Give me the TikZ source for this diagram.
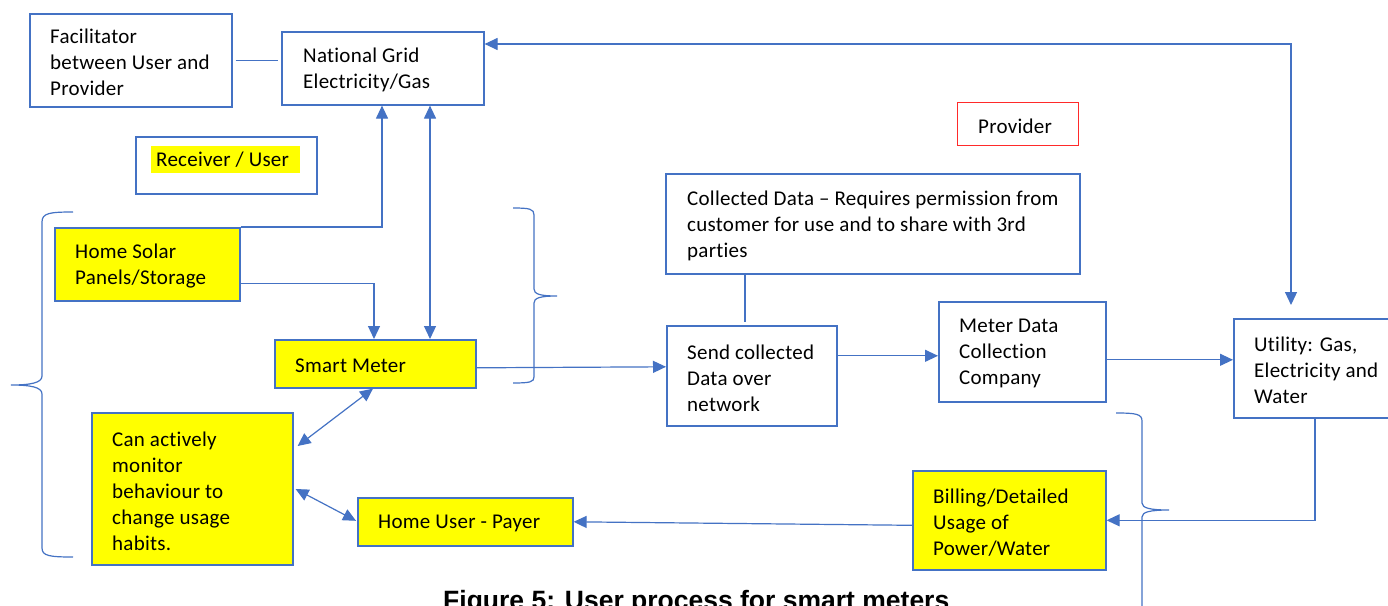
\documentclass[tikz,border=0pt]{standalone}
\usepackage{fontspec}
\newfontfamily\calibri{Carlito}[Ligatures=NoCommon,LetterSpace=1.2]
\newfontfamily\capfont{Liberation Sans}
\usetikzlibrary{arrows.meta,calc}
\definecolor{lnblue}{HTML}{4472C4}
\definecolor{hiyellow}{HTML}{FFFF00}
\definecolor{provred}{HTML}{FF2A2A}
\begin{document}
\begin{tikzpicture}[x=1pt,y=-1pt,
  box/.style={draw=lnblue,line width=1.6pt,rectangle,anchor=north west,inner sep=0pt},
  ybox/.style={box,fill=hiyellow},
  txt/.style={anchor=west,align=left,inner sep=0pt,yshift=-2pt,font=\calibri\fontsize{21}{26}\selectfont},
  conn/.style={draw=lnblue,line width=1.2pt},
  tip/.style={-{Triangle[length=13pt,width=12pt]}},
  dtip/.style={{Triangle[length=13pt,width=12pt]}-{Triangle[length=13pt,width=12pt]}}
]
\useasboundingbox (0,0) rectangle (1388,605);
\clip (0,0) rectangle (1388,605);
\fill[white] (0,0) rectangle (1388,605);

% boxes
\node[box,minimum width=202pt,minimum height=93pt] (fac) at (29,13) {};
\node[txt] (fac-t) at ($(fac.west)+(21,0)$) {Facilitator\\between User and\\Provider};

\node[box,minimum width=202pt,minimum height=73pt] (ng) at (281,31) {};
\node[txt] (ng-t) at ($(ng.west)+(22,0)$) {National Grid\\Electricity/Gas};

\node[box,minimum width=181pt,minimum height=57pt] (recv) at (135,136) {};
\node[fill=hiyellow,anchor=north west,minimum width=149pt,minimum height=27pt,inner sep=0pt] (recvhl) at (151,146) {};
\node[txt,yshift=2pt] (recv-t) at ($(recvhl.west)+(5,0)$) {Receiver / User};

\node[draw=provred,line width=1.4pt,rectangle,anchor=north west,inner sep=0pt,minimum width=121pt,minimum height=43pt] (prov) at (957,102) {};
\node[txt] (prov-t) at ($(prov.west)+(21,0)$) {Provider};

\node[ybox,minimum width=185pt,minimum height=73pt] (solar) at (54,227) {};
\node[txt] (solar-t) at ($(solar.west)+(21,0)$) {Home Solar\\Panels/Storage};

\node[box,minimum width=414pt,minimum height=100pt] (coll) at (665,173) {};
\node[txt] (coll-t) at ($(coll.west)+(22,0)$) {Collected Data – Requires permission from\\customer for use and to share with 3rd\\parties};

\node[ybox,minimum width=201pt,minimum height=48pt] (sm) at (274,339) {};
\node[txt] (sm-t) at ($(sm.west)+(21,0)$) {Smart Meter};

\node[box,minimum width=170pt,minimum height=100pt] (send) at (666,325) {};
\node[txt] (send-t) at ($(send.west)+(21,0)$) {Send collected\\Data over\\network};

\node[box,minimum width=167pt,minimum height=100pt] (meter) at (938,301) {};
\node[txt] (meter-t) at ($(meter.west)+(21,0)$) {Meter Data\\Collection\\Company};

\node[box,minimum width=162pt,minimum height=99pt] (util) at (1233,318) {};
\node[txt] (util-t) at ($(util.west)+(21,0)$) {Utility: Gas,\\Electricity and\\Water};

\node[ybox,minimum width=201pt,minimum height=152pt] (mon) at (91,412) {};
\node[txt] (mon-t) at ($(mon.west)+(21,0)$) {Can actively\\monitor\\behaviour to\\change usage\\habits.};

\node[ybox,minimum width=215pt,minimum height=48pt] (hu) at (357,497) {};
\node[txt] (hu-t) at ($(hu.west)+(21,0)$) {Home User - Payer};

\node[ybox,minimum width=193pt,minimum height=99pt] (bill) at (912,470) {};
\node[txt] (bill-t) at ($(bill.west)+(21,0)$) {Billing/Detailed\\Usage of\\Power/Water};

% connector points
\coordinate (ngb) at ($(ng.south west)+(149,0)$);
\coordinate (ngb1) at ($(ng.south west)+(101,0)$);
\coordinate (sole) at ($(solar.south east)+(0,-18)$);
\coordinate (smt1) at ($(sm.north west)+(100,0)$);
\coordinate (sme) at ($(sm.east)+(0,4)$);
\coordinate (sendw) at ($(send.west)+(0,-9)$);
\coordinate (smb) at ($(sm.south west)+(99,0)$);
\coordinate (mone) at ($(mon.north east)+(4,34)$);
\coordinate (mone2) at ($(mon.north east)+(2,77)$);
\coordinate (huw) at ($(hu.west)+(-1,-1)$);
\coordinate (billw) at ($(bill.west)+(0,5)$);
\coordinate (sende) at ($(send.east)+(0,-20)$);
\coordinate (metere) at ($(meter.east)+(0,8)$);
\coordinate (collb) at ($(coll.south west)+(80,0)$);
\coordinate (utilb) at ($(util.south west)+(82,0)$);
\coordinate (nge) at ($(ng.north east)+(0,13)$);
\coordinate (utiltop) at ($(util.north west)+(58,0)$);

% connectors
\draw[conn,shorten <=3pt,shorten >=3pt] (fac.east) -- (fac.east -| ng.west);
\draw[conn,tip] (solar.north east) -| (ngb1);
\draw[conn,dtip] (ngb) -- (ngb |- sm.north);
\draw[conn,tip] (sole) -| (smt1);
\draw[conn,tip] (sme) -- (sendw);
\draw[conn,dtip] (smb) -- (mone);
\draw[conn,dtip] (mone2) -- (huw);
\draw[conn,tip] (billw) -- (hu.east);
\draw[conn,tip] (sende) -- (sende -| meter.west);
\draw[conn,tip] (metere) -- (metere -| util.west);
\draw[conn,shorten >=3pt] (collb) -- (collb |- send.north);
\draw[conn,tip] (utilb) |- (bill.east);
\draw[conn,dtip,shorten >=13pt] (nge) -| (utiltop);

% braces
\draw[conn] (73,212) .. controls (50,212) and (42,213) .. (42,222) -- (42,376) .. controls (42,383) and (30,385) .. (11,385) .. controls (30,385) and (42,387) .. (42,394) -- (42,548) .. controls (42,556) and (50,557) .. (73,557);
\draw[conn] (513,208) .. controls (530,208) and (534,209) .. (534,215) -- (534,289) .. controls (534,294) and (540,296) .. (557,296) .. controls (540,296) and (534,298) .. (534,303) -- (534,377) .. controls (534,382) and (530,383) .. (513,383);
\draw[conn] (1116,413) .. controls (1136,413) and (1142,414) .. (1142,421) -- (1142,503) .. controls (1142,508) and (1150,510) .. (1169,510) .. controls (1150,510) and (1142,512) .. (1142,517) -- (1142,620);

% caption (cut off at the bottom edge, as in the reference)
\node[anchor=base west,inner sep=0pt,font=\capfont\bfseries\fontsize{26.5}{30}\selectfont] (cap) at (443,609) {Figure 5: User process for smart meters};
\end{tikzpicture}
\end{document}
